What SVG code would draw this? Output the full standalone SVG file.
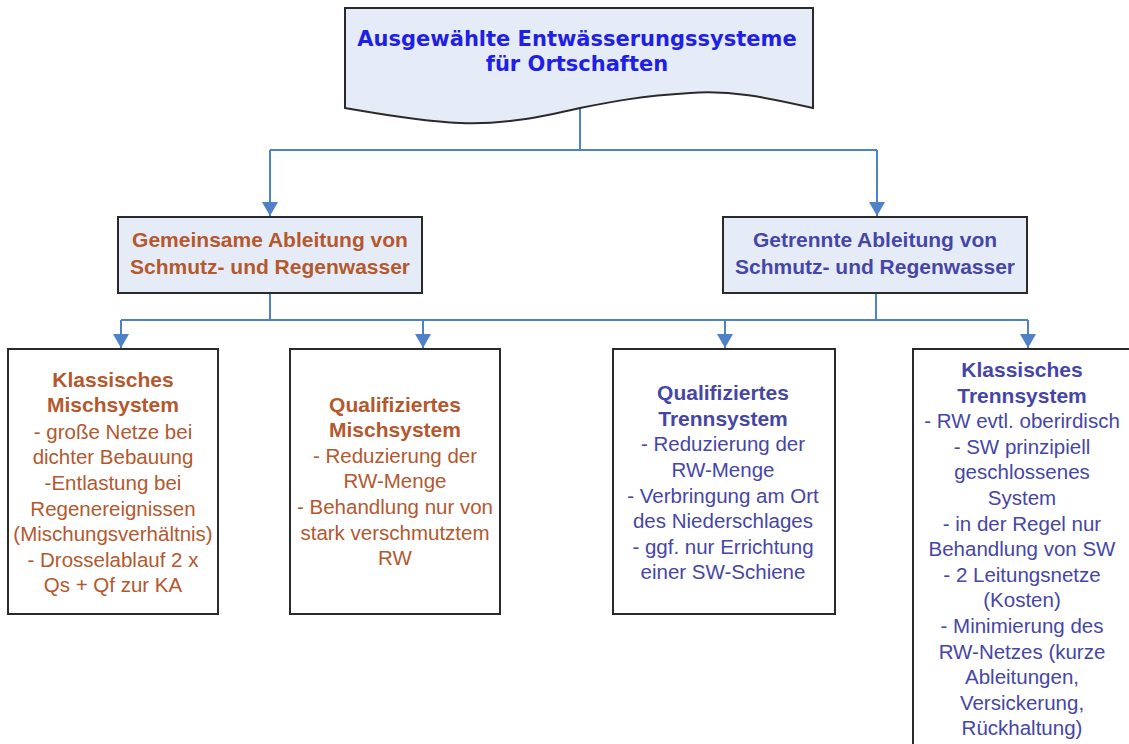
<svg xmlns="http://www.w3.org/2000/svg" width="1129" height="744" viewBox="0 0 1129 744">
<defs>
<style>
.box{fill:#ffffff;stroke:#2a2a2a;stroke-width:2}
.hbox{fill:#e6ecf7;stroke:#2a2a2a;stroke-width:2}
.conn{fill:none;stroke:#4f81c7;stroke-width:2}
.t{font-family:"Liberation Sans",Arial,sans-serif;font-size:20.5px;text-anchor:middle}
.b{font-weight:bold;font-size:21px}
.brown{fill:#b4582e}
.navy{fill:#4646a6}
.title{font-family:"DejaVu Sans",Verdana,sans-serif;font-size:21px;font-weight:bold;fill:#1f1fe6;text-anchor:middle}
</style>
<marker id="arr" viewBox="0 0 14 16" refX="14" refY="8" markerWidth="14" markerHeight="16" orient="auto" markerUnits="userSpaceOnUse">
<path d="M0,0 L14,8 L0,16 z" fill="#4f81c7"/>
</marker>
</defs>
<rect width="1129" height="744" fill="#ffffff"/>
<g id="connectors">
<path class="conn" d="M580,108 V150"/>
<path class="conn" d="M270,150 H877"/>
<path class="conn" d="M270,150 V216" marker-end="url(#arr)"/>
<path class="conn" d="M877,150 V216" marker-end="url(#arr)"/>
<path class="conn" d="M270,293 V320 M121,320 H1028 M876,293 V320"/>
<path class="conn" d="M121,320 V348" marker-end="url(#arr)"/>
<path class="conn" d="M423,320 V348" marker-end="url(#arr)"/>
<path class="conn" d="M725,320 V348" marker-end="url(#arr)"/>
<path class="conn" d="M1028,320 V348" marker-end="url(#arr)"/>
</g>
<g id="title">
<path class="hbox" d="M345,8 H813 V108 C765,97 730,90 690,93 C640,96 610,102 580,108 C545,116 505,125 460,123 C415,121 375,113 345,108 Z"/>
<text class="title" x="577" y="46">Ausgewählte Entwässerungssysteme</text>
<text class="title" x="577" y="71">für Ortschaften</text>
</g>
<g id="gemeinsam">
<rect class="hbox" x="118" y="217" width="304" height="76"/>
<text class="t b brown" x="270" y="247">Gemeinsame Ableitung von</text>
<text class="t b brown" x="270" y="274">Schmutz- und Regenwasser</text>
</g>
<g id="getrennt">
<rect class="hbox" x="723" y="217" width="304" height="76"/>
<text class="t b navy" x="875" y="247">Getrennte Ableitung von</text>
<text class="t b navy" x="875" y="274">Schmutz- und Regenwasser</text>
</g>
<g id="klass-misch">
<rect class="box" x="8" y="349" width="210" height="265"/>
<text class="t b brown" x="113" y="387">Klassisches</text>
<text class="t b brown" x="113" y="412">Mischsystem</text>
<text class="t brown" x="113" y="439">- große Netze bei</text>
<text class="t brown" x="113" y="464">dichter Bebauung</text>
<text class="t brown" x="113" y="490">-Entlastung bei</text>
<text class="t brown" x="113" y="516">Regenereignissen</text>
<text class="t brown" x="113" y="541">(Mischungsverhältnis)</text>
<text class="t brown" x="113" y="567">- Drosselablauf 2 x</text>
<text class="t brown" x="113" y="592">Qs + Qf zur KA</text>
</g>
<g id="qual-misch">
<rect class="box" x="290" y="349" width="210" height="265"/>
<text class="t b brown" x="395" y="412">Qualifiziertes</text>
<text class="t b brown" x="395" y="437">Mischsystem</text>
<text class="t brown" x="395" y="463">- Reduzierung der</text>
<text class="t brown" x="395" y="488">RW-Menge</text>
<text class="t brown" x="395" y="514">- Behandlung nur von</text>
<text class="t brown" x="395" y="540">stark verschmutztem</text>
<text class="t brown" x="395" y="565">RW</text>
</g>
<g id="qual-trenn">
<rect class="box" x="613" y="349" width="222" height="265"/>
<text class="t b navy" x="723" y="400">Qualifiziertes</text>
<text class="t b navy" x="723" y="426">Trennsystem</text>
<text class="t navy" x="723" y="451">- Reduzierung der</text>
<text class="t navy" x="723" y="477">RW-Menge</text>
<text class="t navy" x="723" y="503">- Verbringung am Ort</text>
<text class="t navy" x="723" y="528">des Niederschlages</text>
<text class="t navy" x="723" y="554">- ggf. nur Errichtung</text>
<text class="t navy" x="723" y="579">einer SW-Schiene</text>
</g>
<g id="klass-trenn">
<rect class="box" x="913" y="349" width="232" height="420"/>
<text class="t b navy" x="1022" y="377">Klassisches</text>
<text class="t b navy" x="1022" y="403">Trennsystem</text>
<text class="t navy" x="1022" y="428">- RW evtl. oberirdisch</text>
<text class="t navy" x="1022" y="454">- SW prinzipiell</text>
<text class="t navy" x="1022" y="479">geschlossenes</text>
<text class="t navy" x="1022" y="505">System</text>
<text class="t navy" x="1022" y="531">- in der Regel nur</text>
<text class="t navy" x="1022" y="556">Behandlung von SW</text>
<text class="t navy" x="1022" y="582">- 2 Leitungsnetze</text>
<text class="t navy" x="1022" y="607">(Kosten)</text>
<text class="t navy" x="1022" y="633">- Minimierung des</text>
<text class="t navy" x="1022" y="659">RW-Netzes (kurze</text>
<text class="t navy" x="1022" y="684">Ableitungen,</text>
<text class="t navy" x="1022" y="710">Versickerung,</text>
<text class="t navy" x="1022" y="735">Rückhaltung)</text>
</g>
</svg>
